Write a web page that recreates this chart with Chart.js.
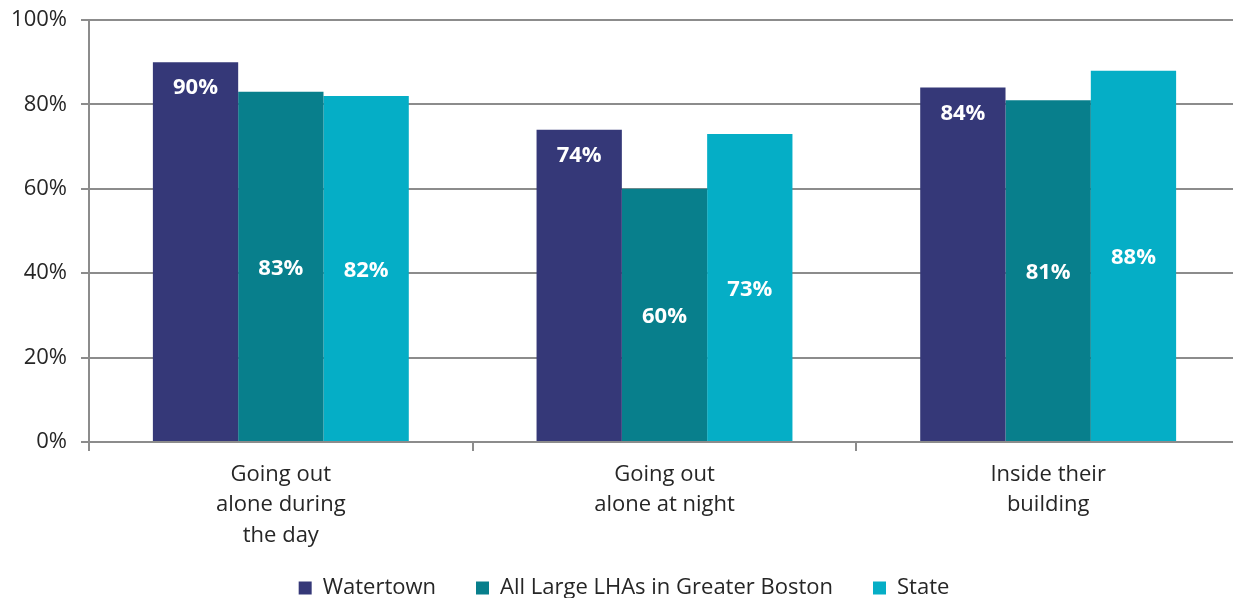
<!DOCTYPE html>
<html>
<head>
<meta charset="utf-8">
<script src="https://cdn.jsdelivr.net/npm/chart.js@4/dist/chart.umd.min.js"></script>
<style>
html,body{margin:0;padding:0;background:#fff;overflow:hidden;}
#wrap{width:1233px;height:598px;position:relative;overflow:hidden;}
</style>
</head>
<body>
<div id="wrap"><canvas id="c" width="1240" height="598"></canvas></div>
<script>
const categories = [["Going out","alone during","the day"],["Going out","alone at night"],["Inside their","building"]];
const seriesNames = ["Watertown","All Large LHAs in Greater Boston","State"];
const watertown = [90, 74, 84];
const allLargeLHAs = [83, 60, 81];
const stateValues = [82, 73, 88];
const yTicks = [0, 20, 40, 60, 80, 100];
const colors = ["#353878", "#087F8C", "#05AEC6"];

const FONT = "'Open Sans', 'Liberation Sans', sans-serif";

const labelPlugin = {
  id: 'barLabels',
  afterLayout(chart) {
    const l = chart.legend;
    if (l) { l.top -= 29; l.bottom -= 29; l.left += 4; l.right += 4; }
  },
  afterDatasetsDraw(chart) {
    const ctx = chart.ctx;
    ctx.save();
    ctx.fillStyle = '#ffffff';
    ctx.font = "bold 22px " + FONT;
    ctx.textAlign = 'center';
    ctx.textBaseline = 'middle';
    chart.data.datasets.forEach((ds, di) => {
      const meta = chart.getDatasetMeta(di);
      meta.data.forEach((bar, i) => {
        const v = ds.data[i];
        let y;
        if (di === 0) y = bar.y + 26;
        else y = (bar.y + bar.base) / 2 + 2;
        ctx.fillText(v + '%', bar.x, y);
      });
    });
    ctx.restore();
  }
};

new Chart(document.getElementById('c'), {
  type: 'bar',
  data: {
    labels: categories,
    datasets: [
      {label: seriesNames[0], data: watertown, backgroundColor: colors[0]},
      {label: seriesNames[1], data: allLargeLHAs, backgroundColor: colors[1]},
      {label: seriesNames[2], data: stateValues, backgroundColor: colors[2]}
    ]
  },
  options: {
    responsive: false,
    animation: false,
    layout: {padding: {top: 20, right: 0, left: 0, bottom: -40}},
    datasets: {bar: {categoryPercentage: 0.667, barPercentage: 1.0}},
    plugins: {
      legend: {
        position: 'bottom',
        labels: {
          boxWidth: 13, boxHeight: 13, padding: 40,
          color: '#262626',
          font: {family: FONT, size: 22}
        }
      },
      tooltip: {enabled: false}
    },
    scales: {
      x: {
        grid: {drawOnChartArea: false, offset: true, color: '#8c8c8c', lineWidth: 2, tickLength: 9},
        border: {color: '#8c8c8c', width: 2},
        ticks: {color: '#262626', font: {family: FONT, size: 22, lineHeight: 1.4}, padding: 8, maxRotation: 0},
        afterFit(scale) { scale.height = 124; }
      },
      y: {
        min: 0, max: 100,
        afterBuildTicks(scale) { scale.ticks = yTicks.map(v => ({value: v})); },
        grid: {color: '#8c8c8c', lineWidth: 2, tickLength: 8},
        border: {color: '#8c8c8c', width: 2},
        ticks: {color: '#262626', font: {family: FONT, size: 22}, padding: 14, callback: v => v + '%'},
        afterFit(scale) { scale.width = 89; scale.paddingTop = 0; scale.paddingBottom = 0; }
      }
    }
  },
  plugins: [labelPlugin]
});
</script>
</body>
</html>
